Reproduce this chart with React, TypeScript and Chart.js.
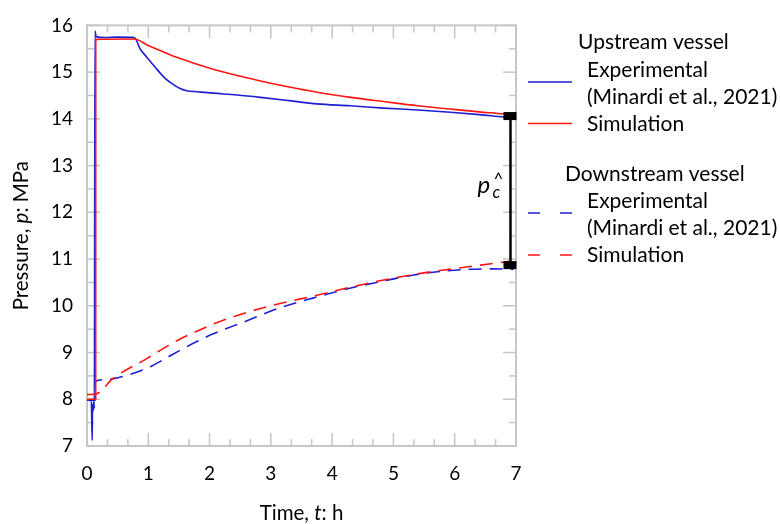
import React, { useEffect, useRef } from "react";
import { Chart, registerables } from "chart.js";

Chart.register(...registerables);

// ---------- data ----------
const upExpT = [0, 0.07, 0.085, 0.09, 0.1, 0.11, 0.12, 0.13, 0.15, 0.3, 0.5, 0.77, 0.87, 0.975, 1.11, 1.25, 1.38, 1.52, 1.63, 1.8, 2.06, 2.45, 2.83, 3.3, 3.75, 4.3, 4.84, 5.4, 5.93, 6.4, 6.8, 6.9];
const upExpP = [7.98, 7.98, 7.12, 7.9, 7.75, 7.95, 7.8, 15.88, 15.76, 15.74, 15.75, 15.74, 15.49, 15.32, 15.11, 14.9, 14.76, 14.65, 14.6, 14.58, 14.55, 14.51, 14.46, 14.39, 14.32, 14.28, 14.23, 14.19, 14.14, 14.09, 14.04, 14.03];

const upSimT = [0, 0.142, 0.143, 0.77, 1.0, 1.25, 1.52, 2.06, 2.45, 2.83, 3.3, 3.75, 4.3, 4.84, 5.4, 5.93, 6.4, 6.8, 6.9];
const upSimP = [8.0, 8.0, 15.7, 15.71, 15.57, 15.43, 15.29, 15.06, 14.93, 14.81, 14.68, 14.57, 14.46, 14.37, 14.28, 14.21, 14.15, 14.105, 14.09];

const downExpT = [0, 0.13, 0.131, 0.3, 0.59, 0.975, 1.25, 1.52, 1.8, 2.06, 2.61, 3.15, 3.7, 4.24, 4.8, 5.33, 5.8, 6.2, 6.6, 6.96];
const downExpP = [7.98, 7.98, 8.38, 8.42, 8.49, 8.66, 8.85, 9.05, 9.24, 9.4, 9.68, 9.96, 10.17, 10.36, 10.52, 10.66, 10.74, 10.78, 10.79, 10.78];

const downSimT = [0, 0.158, 0.43, 0.975, 1.25, 1.52, 1.8, 2.06, 2.61, 3.15, 3.7, 4.24, 4.8, 5.33, 5.9, 6.42, 6.9];
const downSimP = [8.1, 8.12, 8.45, 8.87, 9.09, 9.29, 9.46, 9.61, 9.86, 10.05, 10.21, 10.38, 10.54, 10.67, 10.78, 10.87, 10.95];

const xTickValues = [0, 1, 2, 3, 4, 5, 6, 7];
const yTickValues = [7, 8, 9, 10, 11, 12, 13, 14, 15, 16];

// p_c annotation (time, top pressure, bottom pressure)
const annT = 6.91;
const annTop = 14.06;
const annBottom = 10.87;

const xTitle = [{ t: "Time, " }, { t: "t", i: true }, { t: ": h" }];
const yTitle = [{ t: "Pressure, " }, { t: "p", i: true }, { t: ": MPa" }];

const legendUpHeader = "Upstream vessel";
const legendDownHeader = "Downstream vessel";
const legendExp = ["Experimental", "(Minardi et al., 2021)"];
const legendSim = "Simulation";

// ---------- styles ----------
const FONT = "Lato, 'Open Sans', sans-serif";
const BLUE = "#1e1ed2";
const RED = "#ff1414";
const FRAME = "#c6c6c6";
const DASH = [13, 8];

const pts = (t: number[], p: number[]) => t.map((x, k) => ({ x, y: p[k] }));

function drawMixed(ctx: CanvasRenderingContext2D, parts: { t: string; i?: boolean }[], cx: number, cy: number, size: number) {
  const fonts = parts.map((p) => `${p.i ? "italic " : ""}${size}px ${FONT}`);
  let total = 0;
  const widths = parts.map((p, k) => {
    ctx.font = fonts[k];
    const w = ctx.measureText(p.t).width;
    total += w;
    return w;
  });
  let x = cx - total / 2;
  ctx.textBaseline = "middle";
  ctx.textAlign = "left";
  parts.forEach((p, k) => {
    ctx.font = fonts[k];
    ctx.fillText(p.t, x, cy);
    x += widths[k];
  });
}

const decor = {
  id: "decor",
  beforeDatasetsDraw(chart: any) {
    const { ctx, chartArea: a, scales } = chart;
    const xs = scales.x;
    const ys = scales.y;
    ctx.save();
    ctx.strokeStyle = FRAME;
    ctx.lineWidth = 1.5;
    const seg = (x1: number, y1: number, x2: number, y2: number) => {
      ctx.beginPath();
      ctx.moveTo(x1, y1);
      ctx.lineTo(x2, y2);
      ctx.stroke();
    };
    for (let k = 0; k <= 21; k++) {
      const px = xs.getPixelForValue(k / 3);
      const len = k % 3 === 0 ? 13 : 7;
      seg(px, a.bottom, px, a.bottom - len);
      seg(px, a.top, px, a.top + len);
    }
    for (let k = 0; k <= 18; k++) {
      const py = ys.getPixelForValue(7 + k / 2);
      const len = k % 2 === 0 ? 13 : 7;
      seg(a.left, py, a.left + len, py);
      seg(a.right, py, a.right - len, py);
    }
    ctx.lineWidth = 2;
    ctx.strokeRect(a.left, a.top, a.right - a.left, a.bottom - a.top);
    ctx.restore();
  },
  afterDatasetsDraw(chart: any) {
    const { ctx, chartArea: a, scales } = chart;
    const xs = scales.x;
    const ys = scales.y;
    ctx.save();
    // annotation
    const ax = xs.getPixelForValue(annT);
    const yTop = ys.getPixelForValue(annTop);
    const yBot = ys.getPixelForValue(annBottom);
    ctx.strokeStyle = "#000";
    ctx.lineWidth = 2.5;
    ctx.beginPath();
    ctx.moveTo(ax, yTop);
    ctx.lineTo(ax, yBot);
    ctx.stroke();
    ctx.fillStyle = "#000";
    ctx.fillRect(ax - 7, yTop - 4, 13, 8);
    ctx.fillRect(ax - 7, yBot - 4, 13, 8);
    ctx.textAlign = "left";
    ctx.textBaseline = "alphabetic";
    ctx.font = `italic 24px ${FONT}`;
    ctx.fillText("p", ax - 33, yTop + 77);
    ctx.font = `17px ${FONT}`;
    ctx.fillText("^", ax - 17, yTop + 69);
    ctx.font = `italic 17px ${FONT}`;
    ctx.fillText("c", ax - 18, yTop + 82);

    // axis titles
    ctx.fillStyle = "#000";
    drawMixed(ctx, xTitle, (a.left + a.right) / 2, 513, 20.5);
    ctx.save();
    ctx.translate(21, (a.top + a.bottom) / 2);
    ctx.rotate(-Math.PI / 2);
    drawMixed(ctx, yTitle, 0, 0, 20.5);
    ctx.restore();

    // legend
    ctx.font = `21px ${FONT}`;
    ctx.textBaseline = "middle";
    ctx.textAlign = "left";
    ctx.fillText(legendUpHeader, 578, 42);
    ctx.fillText(legendExp[0], 587, 70);
    ctx.fillText(legendExp[1], 587, 97);
    ctx.fillText(legendSim, 587, 124);
    ctx.fillText(legendDownHeader, 565, 174);
    ctx.fillText(legendExp[0], 587, 201);
    ctx.fillText(legendExp[1], 587, 228);
    ctx.fillText(legendSim, 587, 255);

    const sample = (y: number, color: string, dashed: boolean) => {
      ctx.strokeStyle = color;
      ctx.lineWidth = 1.6;
      ctx.setLineDash(dashed ? [12, 20] : []);
      ctx.beginPath();
      ctx.moveTo(528, y);
      ctx.lineTo(572, y);
      ctx.stroke();
    };
    sample(82, BLUE, false);
    sample(123.5, RED, false);
    sample(213, BLUE, true);
    sample(255, RED, true);
    ctx.restore();
  },
};

export default function App() {
  const ref = useRef<HTMLCanvasElement>(null);
  useEffect(() => {
    const common = {
      showLine: true,
      pointRadius: 0,
      borderWidth: 1.6,
      tension: 0,
      cubicInterpolationMode: "monotone" as const,
      fill: false,
    };
    const chart = new Chart(ref.current!, {
      type: "scatter",
      data: {
        datasets: [
          { ...common, label: "Upstream simulation", data: pts(upSimT, upSimP), borderColor: RED },
          { ...common, label: "Downstream simulation", data: pts(downSimT, downSimP), borderColor: RED, borderDash: DASH },
          { ...common, label: "Upstream experimental", data: pts(upExpT, upExpP), borderColor: BLUE },
          { ...common, label: "Downstream experimental", data: pts(downExpT, downExpP), borderColor: BLUE, borderDash: DASH },
        ],
      },
      options: {
        animation: false,
        responsive: false,
        devicePixelRatio: 1,
        layout: { padding: { left: 0, right: 264, top: 17.5, bottom: 0 } },
        plugins: { legend: { display: false }, tooltip: { enabled: false } },
        scales: {
          x: {
            type: "linear",
            min: 0,
            max: 7,
            afterBuildTicks: (s: any) => {
              s.ticks = xTickValues.map((v) => ({ value: v }));
            },
            afterFit: (s: any) => {
              s.height = 78;
            },
            grid: { display: false, drawTicks: false },
            border: { display: false },
            ticks: { font: { family: FONT, size: 19 }, color: "#000", padding: 16, maxRotation: 0 },
          },
          y: {
            type: "linear",
            min: 7,
            max: 16,
            afterBuildTicks: (s: any) => {
              s.ticks = yTickValues.map((v) => ({ value: v }));
            },
            afterFit: (s: any) => {
              s.width = 87;
            },
            grid: { display: false, drawTicks: false },
            border: { display: false },
            ticks: { font: { family: FONT, size: 19 }, color: "#000", padding: 14 },
          },
        },
      },
      plugins: [decor],
    } as any);
    return () => chart.destroy();
  }, []);
  return (
    <div style={{ position: "fixed", left: 0, top: 0, width: 780, height: 524, background: "#fff" }}>
      <canvas ref={ref} width={780} height={524} style={{ display: "block", width: 780, height: 524 }} />
    </div>
  );
}
